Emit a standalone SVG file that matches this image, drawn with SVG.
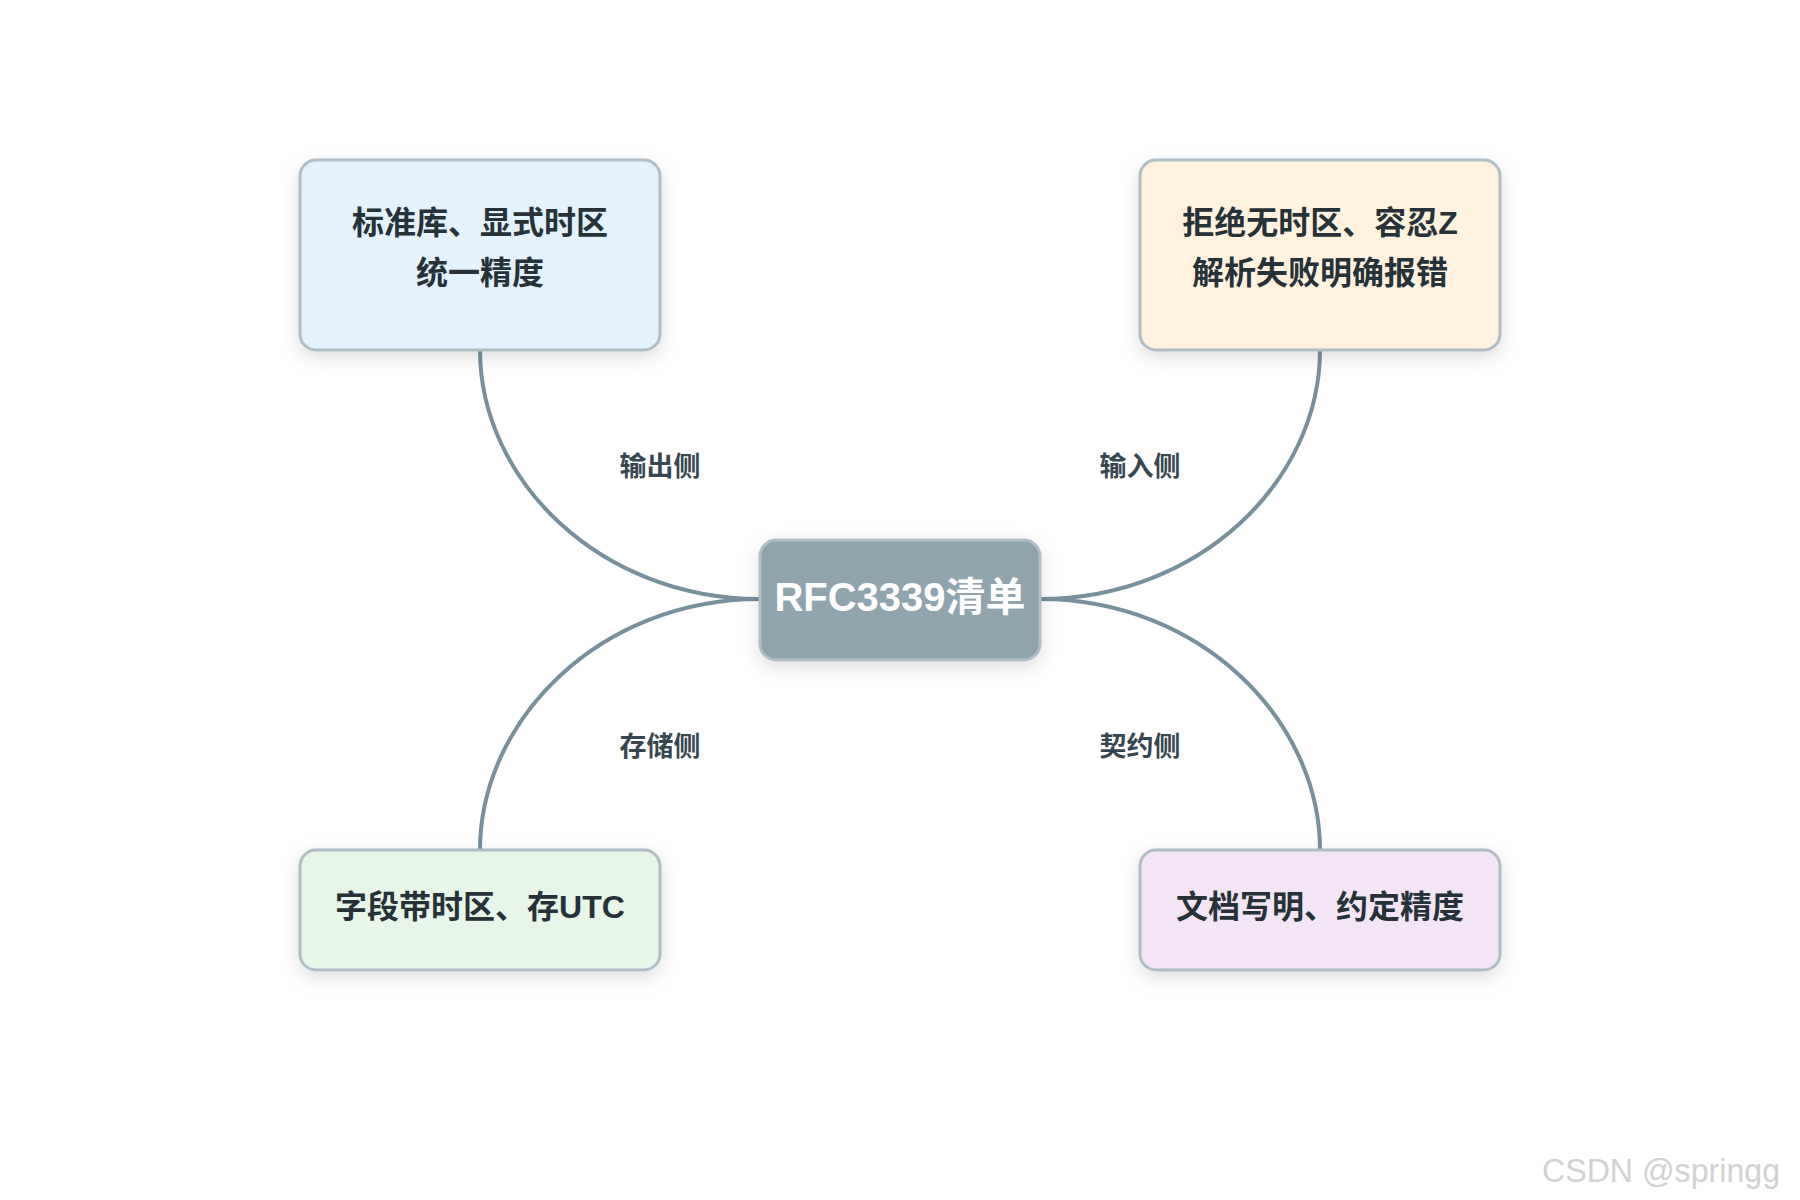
<svg xmlns="http://www.w3.org/2000/svg" width="1800" height="1200" viewBox="0 0 1800 1200">
<defs>
<filter id="sh" x="-20%" y="-20%" width="140%" height="160%">
<feDropShadow dx="0" dy="6" stdDeviation="9" flood-color="#000" flood-opacity="0.13"/>
</filter>
<style>
.node rect{stroke:#b0bec5;stroke-width:3;filter:url(#sh)}
.t{font-family:"Liberation Sans","Noto Sans CJK SC",sans-serif;font-weight:bold;font-size:32px;fill:#263238;text-anchor:middle;dominant-baseline:central}
.ct{font-size:40px;fill:#ffffff}
.lbl{font-family:"Liberation Sans","Noto Sans CJK SC",sans-serif;font-weight:bold;font-size:27px;fill:#37474f;text-anchor:middle;dominant-baseline:central}
.edge{fill:none;stroke:#78909c;stroke-width:4}
</style>
</defs>
<rect width="1800" height="1200" fill="#ffffff"/>
<g id="connectors">
<path class="edge" d="M760,599 C600,599 480,480 480,350"/>
<path class="edge" d="M1040,599 C1200,599 1320,480 1320,350"/>
<path class="edge" d="M760,599 C600,599 480,720 480,850"/>
<path class="edge" d="M1040,599 C1200,599 1320,720 1320,850"/>
<text class="lbl" x="660" y="467">输出侧</text>
<text class="lbl" x="1140" y="467">输入侧</text>
<text class="lbl" x="660" y="747">存储侧</text>
<text class="lbl" x="1140" y="747">契约侧</text>
</g>
<g id="node-tl" class="node">
<rect x="300" y="160" width="360" height="190" rx="16" fill="#e3f2fd"/>
<text class="t" x="480" y="223">标准库、显式时区</text>
<text class="t" x="480" y="273">统一精度</text>
</g>
<g id="node-tr" class="node">
<rect x="1140" y="160" width="360" height="190" rx="16" fill="#fff3e0"/>
<text class="t" x="1320" y="223">拒绝无时区、容忍Z</text>
<text class="t" x="1320" y="273">解析失败明确报错</text>
</g>
<g id="node-bl" class="node">
<rect x="300" y="850" width="360" height="120" rx="16" fill="#e8f5e9"/>
<text class="t" x="480" y="907">字段带时区、存UTC</text>
</g>
<g id="node-br" class="node">
<rect x="1140" y="850" width="360" height="120" rx="16" fill="#f3e5f5"/>
<text class="t" x="1320" y="907">文档写明、约定精度</text>
</g>
<g id="node-center" class="node">
<rect x="760" y="540" width="280" height="120" rx="16" fill="#90a4ae"/>
<text class="t ct" x="900" y="597">RFC3339清单</text>
</g>
<text x="1542" y="1182" font-family="Liberation Sans, sans-serif" font-size="34" fill="#d2d2d2" textLength="238" lengthAdjust="spacingAndGlyphs">CSDN @springg</text>
</svg>
